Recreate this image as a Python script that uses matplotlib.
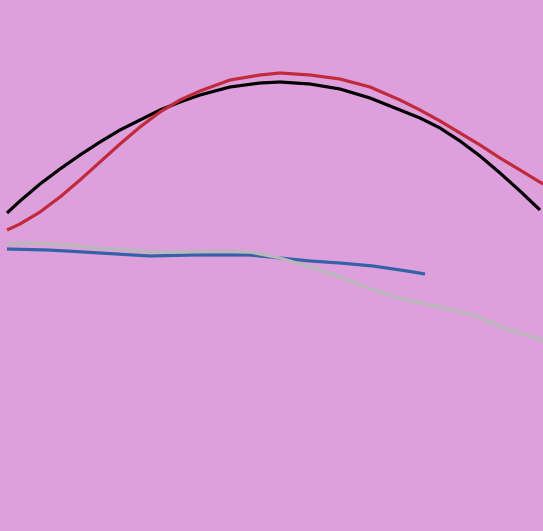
import matplotlib
matplotlib.use('Agg')
import matplotlib.pyplot as plt

black_x = [7, 20, 40, 60, 80, 100, 120, 140, 160, 180, 200, 230, 260, 280, 310, 340, 370,
           400, 420, 440, 460, 480, 500, 520, 540]
black_y = [213, 201, 184, 169, 155, 142, 130, 120, 110, 102, 95, 87, 83, 82, 84, 89, 98,
           110, 118, 128, 141, 156, 173, 191, 210]

red_x = [7, 20, 40, 60, 80, 100, 120, 140, 160, 180, 200, 230, 260, 280, 310, 340, 370,
         400, 420, 440, 460, 480, 500, 520, 543]
red_y = [230, 224, 212, 197, 180, 162, 144, 127, 112, 100, 91, 80, 75, 73, 75, 79, 87,
         100, 110, 121, 133, 145, 158, 170, 184]

blue_x = [7, 47, 67, 100, 133, 150, 193, 250, 270, 290, 310, 340, 373, 407, 425]
blue_y = [249, 250, 251, 253, 255, 256, 255, 255, 257, 259, 261, 263, 266, 271, 274]

gray_x = [7, 33, 67, 100, 133, 150, 180, 220, 250, 280, 310, 340, 373, 407, 440, 473, 507, 543]
gray_y = [244, 243, 245, 248, 250, 252, 252, 251, 252, 258, 267, 277, 290, 300, 307, 315, 329, 340]

BG = '#dda0dd'

fig = plt.figure(figsize=(5.43, 5.31), dpi=100, facecolor=BG)
ax = fig.add_axes([0, 0, 1, 1])
ax.set_facecolor(BG)

ax.plot(black_x, black_y, color='#000000', lw=2.3, solid_capstyle='butt')
ax.plot(red_x, red_y, color='#c02a3a', lw=2.3, solid_capstyle='butt')
ax.plot(blue_x, blue_y, color='#3362a6', lw=2.3, solid_capstyle='butt')
ax.plot(gray_x, gray_y, color='#b8b8b8', lw=2.3, solid_capstyle='butt')

ax.set_xlim(0, 543)
ax.set_ylim(531, 0)
ax.axis('off')

fig.savefig('out.png', dpi=100, facecolor=BG)
